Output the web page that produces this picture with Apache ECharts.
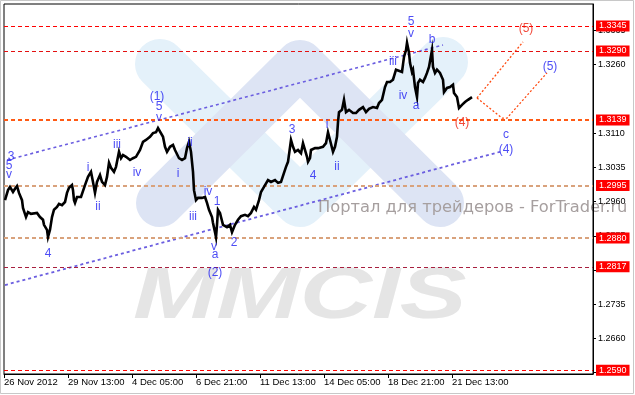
<!DOCTYPE html>
<html><head><meta charset="utf-8">
<script src="https://cdn.jsdelivr.net/npm/echarts@6.0.0/dist/echarts.min.js"></script>
<style>html,body{margin:0;padding:0;background:#fff}#c{width:635px;height:395px}</style>
</head><body><div id="c"></div>
<script>
// ---- data ----
const timeLabels = ['26 Nov 2012','29 Nov 13:00','4 Dec 05:00','6 Dec 21:00','11 Dec 13:00','14 Dec 05:00','18 Dec 21:00','21 Dec 13:00'];
const barsPerLabel = 64;
const barIndex = [1,4,6,9,11,13,15,18,19,22,24,27,29,33,36,39,40,43,44,46,48,50,53,55,58,61,63,65,68,69,70,71,73,
  74,77,81,84,87,89,91,93,96,98,101,103,105,107,110,112,115,117,119,122,126,129,132,136,139,142,146,149,152,154,156,
  159,161,163,166,169,171,173,175,178,181,183,185,187,189,190,192,194,198,201,203,205,208,209,211,212,213,214,216,217,219,223,226,228,231,234,
  237,241,244,247,250,252,255,257,260,264,267,271,274,277,280,282,284,286,287,289,291,294,297,299,301,303,304,306,307,311,314,
  316,319,322,324,326,329,331,333,334,335,338,340,342,345,349,352,355,359,362,365,369,373,375,378,380,381,383,386,389,392,394,398,
  400,402,403,405,406,408,409,411,413,414,416,419,421,423,425,428,429,431,433,436,439,440,443,446,449,450,453,455,458,461,464,468];
const closePrice = [1.2963,1.2985,1.2992,1.2981,1.2988,1.2994,1.2979,1.2963,1.2946,1.2926,1.2937,1.2933,1.2937,1.2935,1.2926,1.2920,1.2909,1.2898,1.2882,1.2898,1.2926,1.2942,1.2948,1.2955,1.2952,1.2959,1.2979,1.2990,1.2996,1.2985,1.2963,1.2957,1.2970,
  1.2974,1.2970,1.2996,1.3014,1.3025,1.3003,1.2979,1.3003,1.3018,1.3003,1.2996,1.3014,1.3045,1.3034,1.3025,1.3036,1.3069,1.3055,1.3062,1.3058,1.3051,1.3055,1.3058,1.3073,1.3091,1.3095,1.3102,1.3110,1.3112,1.3121,1.3117,
  1.3102,1.3080,1.3069,1.3080,1.3084,1.3073,1.3077,1.3055,1.3051,1.3055,1.3077,1.3091,1.3069,1.3025,1.2985,1.2963,1.2968,1.2968,1.2970,1.2957,1.2942,1.2926,1.2913,1.2893,1.2882,1.2909,1.2942,1.2935,1.2926,1.2909,1.2904,1.2909,1.2893,1.2909,1.2920,
  1.2928,1.2931,1.2928,1.2935,1.2948,1.2942,1.2963,1.2981,1.2992,1.3007,1.3003,1.3007,1.3001,1.3003,1.3023,1.3036,1.3047,1.3051,1.3095,1.3080,1.3069,1.3073,1.3066,1.3088,1.3091,1.3058,1.3047,1.3055,1.3073,1.3077,1.3077,
  1.3077,1.3080,1.3088,1.3112,1.3095,1.3069,1.3080,1.3102,1.3134,1.3156,1.3161,1.3183,1.3156,1.3161,1.3154,1.3154,1.3161,1.3167,1.3156,1.3163,1.3167,1.3165,1.3176,1.3183,1.3187,1.3211,1.3222,1.3222,1.3227,1.3249,1.3249,1.3244,
  1.3277,1.3292,1.3308,1.3286,1.3264,1.3244,1.3249,1.3211,1.3189,1.3220,1.3227,1.3222,1.3231,1.3242,1.3255,1.3292,1.3255,1.3242,1.3249,1.3242,1.3227,1.3200,1.3209,1.3211,1.3216,1.3198,1.3189,1.3165,1.3172,1.3178,1.3183,1.3189];
const levelPrices = [1.3345,1.3290,1.3139,1.2995,1.2880,1.2817,1.2590];
const priceTicks = [1.2585,1.2660,1.2735,1.2810,1.2885,1.2960,1.3035,1.3110,1.3260,1.3335];
const upperChannel = [[3,1.3051],[439,1.3303]];
const lowerChannel = [[1,1.2777],[496,1.3069]];
const targetUp = [[473,1.3187],[519,1.3310]];
const targetDown = [[473,1.3187],[498,1.3143],[503,1.3143],[543,1.3242]];
const blueWaveText  = ['3','5','v','i','ii','4','iii','iv','(1)','5','v','i','ii','iii','iv','1','v','a','(2)','2','3','4','i','ii','iii','iv','a','5','v','b','(5)','c','(4)'];
const blueWaveIdx   = [7,5,5,84,94,44,113,133,153,155,155,174,186,189,204,213,210,211,211,230,288,309,323,333,389,399,412,407,407,428,546,502,502];
const blueWavePrice = [1.3058,1.3038,1.3018,1.3034,1.2948,1.2845,1.3084,1.3023,1.3189,1.3167,1.3143,1.3020,1.3088,1.2926,1.2981,1.2959,1.2860,1.2843,1.2803,1.2869,1.3117,1.3016,1.3128,1.3036,1.3266,1.3191,1.3170,1.3354,1.3327,1.3314,1.3255,1.3106,1.3073];
const redWaveText  = ['(5)','(4)'];
const redWaveIdx   = [522,458];
const redWavePrice = [1.3338,1.3132];

// ---- styles ----
const levelStyle = [
  {color:'#ff0000', width:1},
  {color:'#e41010', width:1},
  {color:'#ff5a14', width:2},
  {color:'#d9a27c', width:2},
  {color:'#d9a27c', width:2},
  {color:'#a8203f', width:1},
  {color:'#ff0000', width:1}
];
const FONT = 'Liberation Sans';
const chart = echarts.init(document.getElementById('c'), null, {renderer:'canvas'});
const tickIdx = timeLabels.map((_, i) => i * barsPerLabel);
const waveData = (t, ix, p) => t.map((s, i) => ({value:[ix[i], p[i]], name:s}));

const option = {
  animation:false,
  backgroundColor:'#ffffff',
  grid:{left:4, right:42, top:4, bottom:21, show:true, borderColor:'#000', borderWidth:1, backgroundColor:'transparent'},
  xAxis:{type:'value', min:0, max:589,
    axisLine:{show:true, onZero:false, lineStyle:{color:'#000', width:1}},
    axisTick:{show:true, length:4, customValues:tickIdx, lineStyle:{color:'#000'}},
    axisLabel:{customValues:tickIdx, formatter:v => timeLabels[Math.round(v/barsPerLabel)] || '', align:'left', margin:3,
      fontSize:9.5, color:'#000', fontFamily:FONT},
    splitLine:{show:false}},
  yAxis:{type:'value', position:'right', min:1.2582, max:1.3393, scale:true,
    axisLine:{show:true, onZero:false, lineStyle:{color:'#000', width:1}},
    axisTick:{show:true, length:3, customValues:priceTicks, lineStyle:{color:'#000'}},
    axisLabel:{customValues:priceTicks, formatter:v => v.toFixed(4), margin:5, fontSize:9, color:'#000', fontFamily:FONT},
    splitLine:{show:false}},
  graphic:[
    // background logo: light-blue "V" and lavender chevron
    {type:'polyline', z:-9, shape:{points:[[160,64],[300,202],[443,62]]},
      style:{fill:null, stroke:'#e4f1fa', lineWidth:50, lineCap:'round', lineJoin:'round'}},
    {type:'polyline', z:-8, shape:{points:[[160,203],[300,64],[440,203]]},
      style:{fill:null, stroke:'#dde4f4', lineWidth:48, lineCap:'round', lineJoin:'round'}},
    {type:'text', z:-5, x:133, y:262, scaleX:1.39, scaleY:1,
      style:{text:'MMCIS', font:'italic bold 72px "Liberation Sans"', fill:'#e5e5e5', textVerticalAlign:'top'}},
    {type:'text', z:-4, x:318, y:208,
      style:{text:'Портал для трейдеров - ForTrader.ru', font:'16.3px "DejaVu Sans"', fill:'#a69f9f', textVerticalAlign:'middle'}},
    {type:'rect', z:-6, shape:{x:0.5, y:0.5, width:633, height:393}, style:{fill:'none', stroke:'#c8c8c8', lineWidth:1}}
  ],
  series:[
    {type:'line', name:'levels', data:[], z:3, silent:true,
      markLine:{symbol:'none', silent:true, animation:false, precision:4,
        data: levelPrices.map((p, i) => ({yAxis:p,
          lineStyle:{color:levelStyle[i].color, width:levelStyle[i].width, type:[4,3]},
          label:{show:true, position:'end', distance:3, formatter:p.toFixed(4), backgroundColor:'#ff0000', color:'#fff',
            fontSize:9, fontFamily:FONT, padding:[1,3,0,3], lineHeight:10}}))}},
    {type:'line', data:upperChannel, showSymbol:false, z:4, lineStyle:{color:'#6b5ee0', width:1.6, type:[3,3]}},
    {type:'line', data:lowerChannel, showSymbol:false, z:4, lineStyle:{color:'#6b5ee0', width:1.8, type:[3,3]}},
    {type:'lines', coordinateSystem:'cartesian2d', polyline:true, z:4, symbol:['none','arrow'], symbolSize:7,
      lineStyle:{color:'#ff4a10', width:1.3, type:[2,2], opacity:1},
      data:[{coords:targetUp}, {coords:targetDown}]},
    {type:'line', data:barIndex.map((x, i) => [x, closePrice[i]]), showSymbol:false, z:5,
      lineStyle:{color:'#000', width:2.6, join:'miter'}},
    {type:'scatter', symbolSize:0, z:6, data:waveData(blueWaveText, blueWaveIdx, blueWavePrice),
      label:{show:true, position:'inside', formatter:p => p.name, color:'#2020f2', fontSize:12, fontFamily:FONT}},
    {type:'scatter', symbolSize:0, z:6, data:waveData(redWaveText, redWaveIdx, redWavePrice),
      label:{show:true, position:'inside', formatter:p => p.name, color:'#ee1a08', fontSize:12, fontFamily:FONT}}
  ]
};
chart.setOption(option);
</script></body></html>
